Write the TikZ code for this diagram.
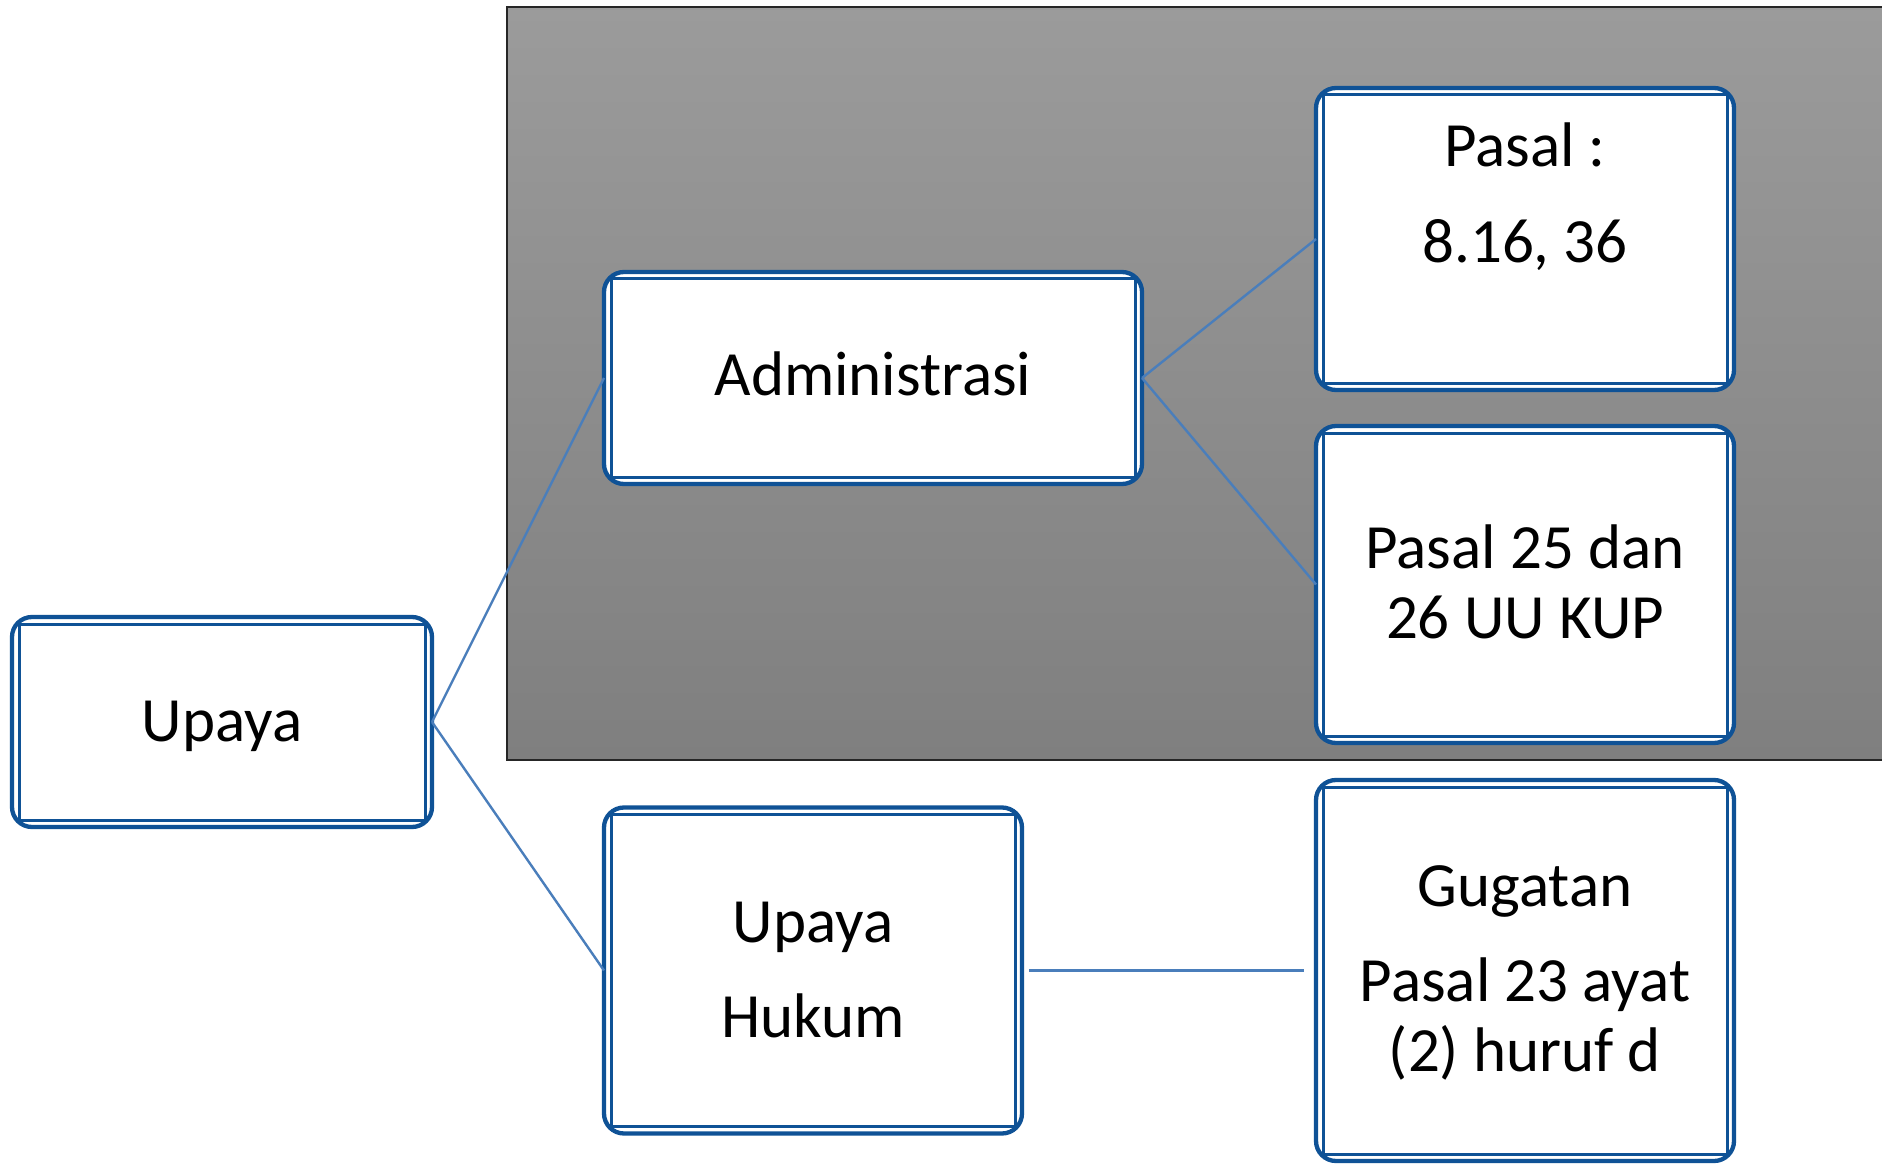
\documentclass[tikz,border=0pt]{standalone}
\usepackage{fontspec}
\setmainfont{Carlito}
\definecolor{bcol}{RGB}{15,82,150}
\definecolor{lcol}{RGB}{74,126,187}
\definecolor{gtop}{RGB}{155,155,155}
\definecolor{gbot}{RGB}{127,127,127}
\begin{document}
\begin{tikzpicture}[x=1pt,y=-1pt,
  box/.style={draw=bcol, line width=4.3pt, rounded corners=20pt, fill=white, inner sep=0pt, outer sep=0pt},
  inbox/.style={draw=bcol, line width=3pt},
  conn/.style={draw=lcol, line width=2.4pt},
  lbl/.style={anchor=base, inner sep=0pt, font=\fontsize{63}{70}\selectfont}]
\useasboundingbox (0,0) rectangle (1882,1166);
\fill[white] (0,0) rectangle (1882,1166);
% gray panel
\shade[top color=gtop, bottom color=gbot] (507,7.5) rectangle (1895,760);
\draw[line width=2pt, black!85] (507,7.5) rectangle (1895,760);
% boxes
\node[box, minimum width=420pt, minimum height=210pt] (up) at (222,722) {};
\node[box, minimum width=538pt, minimum height=212pt] (adm) at (873,378) {};
\node[box, minimum width=418pt, minimum height=326pt] (uh) at (813,970.5) {};
\node[box, minimum width=418pt, minimum height=302pt] (p1) at (1525,239) {};
\node[box, minimum width=418pt, minimum height=317pt] (p2) at (1525,584.5) {};
\node[box, minimum width=418pt, minimum height=381pt] (gug) at (1525,970.5) {};
\foreach \n in {up,adm,uh,p1,p2,gug}{
  \draw[inbox] ([shift={(7,7)}]\n.north west) rectangle ([shift={(-7,-7)}]\n.south east);
}
% connectors
\draw[conn] (up.east) -- (adm.west);
\draw[conn] (up.east) -- (uh.west);
\draw[conn] (adm.east) -- (p1.west);
\draw[conn] (adm.east) -- (p2.west);
\draw[conn, shorten <=7pt, shorten >=12pt] (uh.east) -- (gug.west);
% texts
\node[lbl] (tup) at (222,741) {Upaya};
\node[lbl] (tadm) at (873,395) {Administrasi};
\node[lbl] (tp1a) at (1525,167) {Pasal :};
\node[lbl] (tp1b) at (1525,263) {8.16, 36};
\node[lbl] (tp2a) at (1525,568) {Pasal 25 dan};
\node[lbl] (tp2b) at (1525,638) {26 UU KUP};
\node[lbl] (tuha) at (813,942) {Upaya};
\node[lbl] (tuhb) at (813,1037) {Hukum};
\node[lbl] (tga) at (1525,906) {Gugatan};
\node[lbl] (tgb) at (1525,1001) {Pasal 23 ayat};
\node[lbl] (tgc) at (1525,1071) {(2) huruf d};
\end{tikzpicture}
\end{document}
